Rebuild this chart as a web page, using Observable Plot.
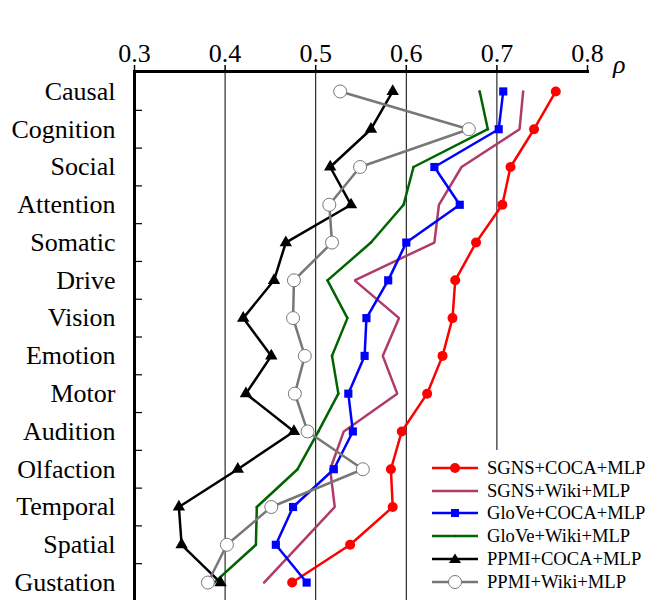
<!DOCTYPE html>
<html><head><meta charset="utf-8">
<script src="https://cdn.jsdelivr.net/npm/d3@7"></script>
<script src="https://cdn.jsdelivr.net/npm/@observablehq/plot@0.6"></script>
<style>
body{margin:0;background:#fff;}
#wrap{position:relative;width:648px;height:600px;overflow:hidden;font-family:"Liberation Serif","Times New Roman",serif;}
#rho{position:absolute;left:613px;top:52px;font-style:italic;font-size:26px;line-height:26px;font-family:"Liberation Serif","DejaVu Serif",serif;}
#legend{position:absolute;left:426px;top:450px;width:222px;height:150px;background:#fff;}
.row{position:absolute;left:0;height:22px;display:flex;align-items:center;font-size:18.6px;white-space:nowrap;}
.row svg{margin-left:6px;margin-right:9px;}
</style></head>
<body><div id="wrap"></div>
<script>
const categories = ["Causal","Cognition","Social","Attention","Somatic","Drive","Vision","Emotion","Motor","Audition","Olfaction","Temporal","Spatial","Gustation"];
const xTicks = [0.3, 0.4, 0.5, 0.6, 0.7, 0.8];
const gridValues = [0.4, 0.5, 0.6, 0.7];
const seriesNames = ["SGNS+COCA+MLP","SGNS+Wiki+MLP","GloVe+COCA+MLP","GloVe+Wiki+MLP","PPMI+COCA+MLP","PPMI+Wiki+MLP"];
const seriesColors = ["#ff0000","#b03a6a","#0000ff","#006400","#000000","#777777"];
const sgnsCoca  = [0.765,0.741,0.715,0.706,0.677,0.654,0.651,0.640,0.623,0.595,0.583,0.585,0.538,0.474];
const sgnsWiki  = [0.729,0.725,0.661,0.636,0.631,0.543,0.592,0.574,0.590,0.531,0.516,0.521,0.482,0.443];
const gloveCoca = [0.707,0.702,0.631,0.659,0.600,0.580,0.556,0.554,0.536,0.541,0.520,0.475,0.456,0.490];
const gloveWiki = [0.681,0.690,0.608,0.597,0.561,0.513,0.535,0.518,0.525,0.503,0.480,0.435,0.434,0.388];
const ppmiCoca  = [0.585,0.561,0.516,0.539,0.467,0.454,0.420,0.451,0.423,0.476,0.414,0.349,0.352,0.395];
const ppmiWiki  = [0.527,0.669,0.549,0.515,0.518,0.476,0.475,0.488,0.477,0.491,0.552,0.451,0.402,0.381];

const seriesValues = [sgnsCoca, sgnsWiki, gloveCoca, gloveWiki, ppmiCoca, ppmiWiki];
const data = seriesValues.flatMap((vals, s) => vals.map((v, i) => ({series: seriesNames[s], cat: i, rho: v})));
const bySeries = name => data.filter(d => d.series === name);
const boundaries = d3.range(0.5, categories.length - 1, 1);
const catIndex = d3.range(categories.length);

const chart = Plot.plot({
  width: 648, height: 600,
  marginLeft: 134, marginRight: 61, marginTop: 71, marginBottom: 0,
  style: {fontFamily: "Liberation Serif, Times New Roman, serif", fontSize: "26px", background: "#fff", overflow: "visible"},
  x: {domain: [0.3, 0.8]},
  y: {domain: [13.475, -0.528]},
  color: {domain: seriesNames, range: seriesColors},
  marks: [
    Plot.ruleX(gridValues, {stroke: "#000", strokeWidth: 1}),
    Plot.axisX({anchor: "top", ticks: xTicks, tickFormat: d3.format(".1f"), tickSize: 7, tickPadding: 3, strokeWidth: 1.5, label: null}),
    Plot.axisY({ticks: catIndex, tickFormat: i => categories[i], tickSize: 0, tickPadding: 19, label: null}),
    Plot.axisY({ticks: boundaries, tickFormat: () => "", tickSize: -8, strokeWidth: 1.2, label: null}),
    Plot.line(data, {x: "rho", y: "cat", z: "series", stroke: "series", strokeWidth: 2.5, strokeLinejoin: "miter"}),
    Plot.dot(bySeries("SGNS+COCA+MLP"), {x: "rho", y: "cat", r: 5, fill: "#ff0000", stroke: "none"}),
    Plot.dot(bySeries("GloVe+COCA+MLP"), {x: "rho", y: "cat", r: 4.6, symbol: "square", fill: "#0000ff", stroke: "none"}),
    Plot.dot(bySeries("GloVe+Wiki+MLP"), {x: "rho", y: "cat", r: 1.3, fill: "#006400", stroke: "none"}),
    Plot.dot(bySeries("PPMI+COCA+MLP"), {x: "rho", y: "cat", r: 4.6, symbol: "triangle", fill: "#000", stroke: "none"}),
    Plot.dot(bySeries("PPMI+Wiki+MLP"), {x: "rho", y: "cat", r: 6.5, fill: "#fff", stroke: "#777", strokeWidth: 1}),
    Plot.frame({anchor: "top", stroke: "#000", strokeWidth: 3}),
    Plot.frame({anchor: "left", stroke: "#000", strokeWidth: 3})
  ]
});
const wrap = document.getElementById("wrap");
wrap.appendChild(chart);

const rho = document.createElement("div");
rho.id = "rho"; rho.textContent = "ρ";
wrap.appendChild(rho);

const legend = document.createElement("div");
legend.id = "legend";
const markerSvg = {
  "SGNS+COCA+MLP": '<circle cx="23" cy="8" r="5" fill="#ff0000"/>',
  "SGNS+Wiki+MLP": '',
  "GloVe+COCA+MLP": '<rect x="19" y="4" width="8" height="8" fill="#0000ff"/>',
  "GloVe+Wiki+MLP": '<circle cx="23" cy="8" r="1.3" fill="#006400"/>',
  "PPMI+COCA+MLP": '<path d="M23,2.5 L29,12 L17,12 Z" fill="#000"/>',
  "PPMI+Wiki+MLP": '<circle cx="23" cy="8" r="6.5" fill="#fff" stroke="#777" stroke-width="1"/>'
};
seriesNames.forEach((name, k) => {
  const row = document.createElement("div");
  row.className = "row";
  row.style.top = (7 + k * 22.7) + "px";
  row.innerHTML = `<svg width="46" height="16"><line x1="0" y1="8" x2="46" y2="8" stroke="${seriesColors[k]}" stroke-width="2.5"/>${markerSvg[name]}</svg><span>${name}</span>`;
  legend.appendChild(row);
});
wrap.appendChild(legend);
</script>
</body></html>
